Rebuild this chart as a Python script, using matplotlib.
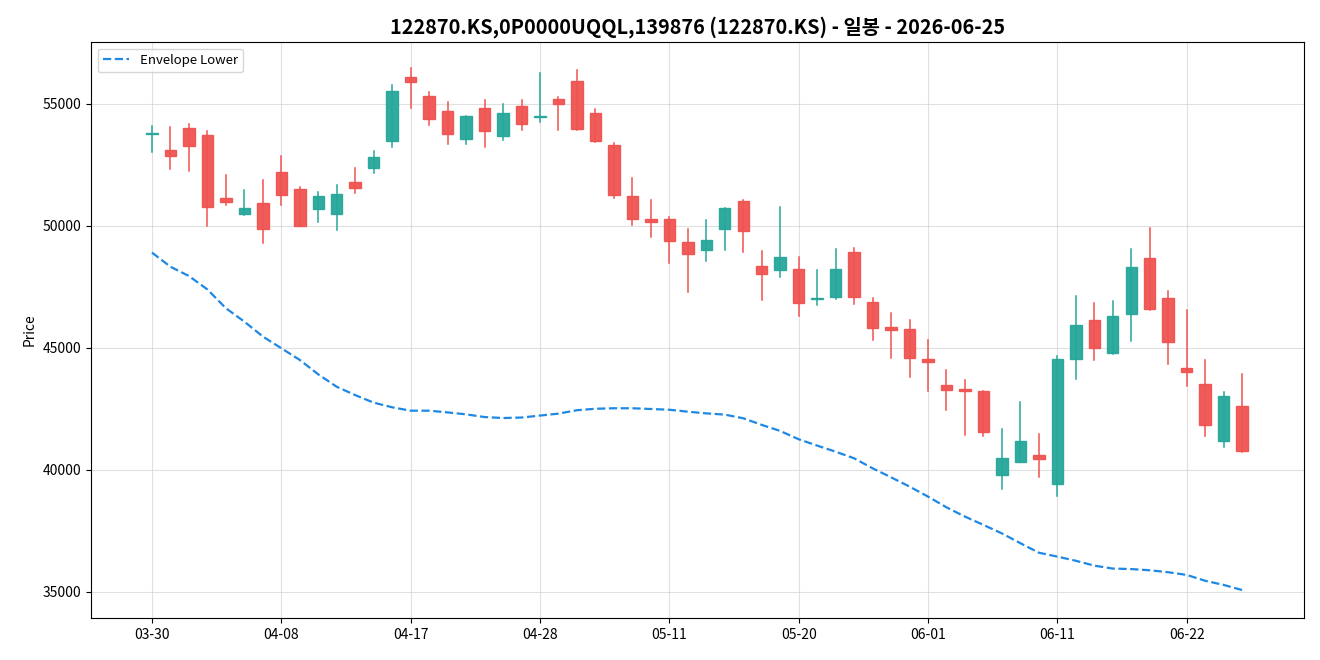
import matplotlib
matplotlib.use("Agg")
import matplotlib.pyplot as plt
from matplotlib.patches import Rectangle

plt.rcParams['font.family'] = ['Noto Sans CJK KR', 'DejaVu Sans']

title = "122870.KS,0P0000UQQL,139876 (122870.KS) - 일봉 - 2026-06-25"

dates = ["03-30", "03-31", "04-01", "04-02", "04-03", "04-06", "04-07", "04-08",
         "04-09", "04-10", "04-13", "04-14", "04-15", "04-16", "04-17",
         "04-20", "04-21", "04-22", "04-23", "04-24", "04-27", "04-28",
         "04-29", "04-30", "05-04", "05-06", "05-07", "05-08", "05-11",
         "05-12", "05-13", "05-14", "05-15", "05-18", "05-19", "05-20",
         "05-21", "05-22", "05-26", "05-27", "05-28", "05-29", "06-01",
         "06-02", "06-04", "06-05", "06-08", "06-09", "06-10", "06-11",
         "06-12", "06-15", "06-16", "06-17", "06-18", "06-19", "06-22",
         "06-23", "06-24", "06-25"]

opens = [53750, 53110, 54000, 53720, 51150, 50480, 50930, 52200, 51500, 50690,
         50480, 51820, 52370, 53470, 56100, 55310, 54700, 53550, 54820, 53680,
         54900, 54460, 55190, 55930, 54620, 53300, 51210, 50300, 50300, 49330,
         49030, 49860, 51020, 48350, 48180, 48220, 47020, 47080, 48920, 46870,
         45850, 45770, 44540, 43470, 43320, 43220, 39780, 40320, 40600, 39410,
         44540, 46150, 44780, 46380, 48690, 47040, 44170, 43510, 41190, 42610]
highs = [54100, 54040, 54180, 53890, 52090, 51480, 51890, 52870, 51600, 51390,
         51680, 52390, 53070, 55780, 56480, 55490, 55080, 54500, 55160, 55000,
         55160, 56270, 55290, 56390, 54800, 53400, 51970, 51070, 50360, 49880,
         50260, 50730, 51070, 48980, 50780, 48730, 48200, 49060, 49100, 47050,
         46450, 46150, 45330, 44100, 43690, 43230, 41680, 42790, 41480, 44670,
         47130, 46860, 46940, 49060, 49920, 47340, 46560, 44510, 43190, 43930]
lows = [53050, 52340, 52270, 49990, 50870, 50470, 49300, 50870, 49980, 50180,
        49840, 51370, 52180, 53250, 54850, 54150, 53380, 53380, 53250, 53520,
        53950, 54280, 53950, 53950, 53460, 51160, 50060, 49560, 48500, 47300,
        48570, 49020, 48930, 46980, 47920, 46320, 46770, 47020, 46810, 45340,
        44570, 43820, 43250, 42470, 41450, 41400, 39220, 40310, 39730, 38950,
        43730, 44510, 44770, 45300, 46570, 44360, 43430, 41410, 40960, 40750]
closes = [53800, 52850, 53280, 50780, 50970, 50740, 49870, 51260, 50010, 51230,
          51300, 51570, 52810, 55520, 55890, 54370, 53760, 54500, 53890, 54620,
          54170, 54490, 55010, 53970, 53480, 51260, 50270, 50180, 49400, 48840,
          49440, 50720, 49780, 48020, 48720, 46830, 47060, 48220, 47080, 45810,
          45730, 44580, 44420, 43270, 43230, 41540, 40480, 41180, 40440, 44540,
          45930, 44990, 46300, 48310, 46600, 45230, 44030, 41830, 43020, 40780]
envelope_lower = [48910, 48330, 47950, 47400, 46630, 46080, 45470, 44990, 44510, 43920,
                  43410, 43070, 42760, 42570, 42430, 42430, 42360, 42280, 42170, 42130,
                  42150, 42230, 42310, 42450, 42510, 42530, 42530, 42500, 42470, 42390,
                  42320, 42270, 42120, 41850, 41600, 41260, 41000, 40750, 40480, 40070,
                  39700, 39320, 38910, 38470, 38090, 37750, 37400, 37000, 36610, 36450,
                  36280, 36080, 35960, 35940, 35890, 35810, 35700, 35460, 35290, 35080]

UP = "#26a69a"
DOWN = "#ef5350"

fig = plt.figure(figsize=(13.2, 6.6), dpi=100)
ax = fig.add_axes([91/1320, 1 - 618/660, (1304 - 91)/1320, (618 - 42)/660])

xs = list(range(len(dates)))
w = 0.62
for x, o, h, l, c in zip(xs, opens, highs, lows, closes):
    col = UP if c >= o else DOWN
    ax.plot([x, x], [l, h], color=col, linewidth=1.1, zorder=2)
    bottom = min(o, c)
    height = max(abs(c - o), 40)
    ax.add_patch(Rectangle((x - w/2, bottom), w, height, facecolor=col,
                           edgecolor=col, linewidth=1.0, alpha=0.95, zorder=3))

ax.plot(xs, envelope_lower, linestyle="--", color="#1e88e5", linewidth=1.6,
        label="Envelope Lower", zorder=4)

ax.set_xlim(-3.3, 62.35)
ax.set_ylim(33934, 57541)
ax.set_xticks(xs[::7])
ax.set_xticklabels(dates[::7])
ax.set_yticks([35000, 40000, 45000, 50000, 55000])
ax.tick_params(labelsize=10)
ax.grid(True, color="#cccccc", alpha=0.6, linewidth=0.8)
ax.set_axisbelow(True)
ax.set_ylabel("Price", fontsize=10)
ax.set_title(title, fontsize=14.3, fontweight="bold", pad=6)
ax.legend(loc="upper left", fontsize=9.5)

fig.savefig("out.png", dpi=100)
